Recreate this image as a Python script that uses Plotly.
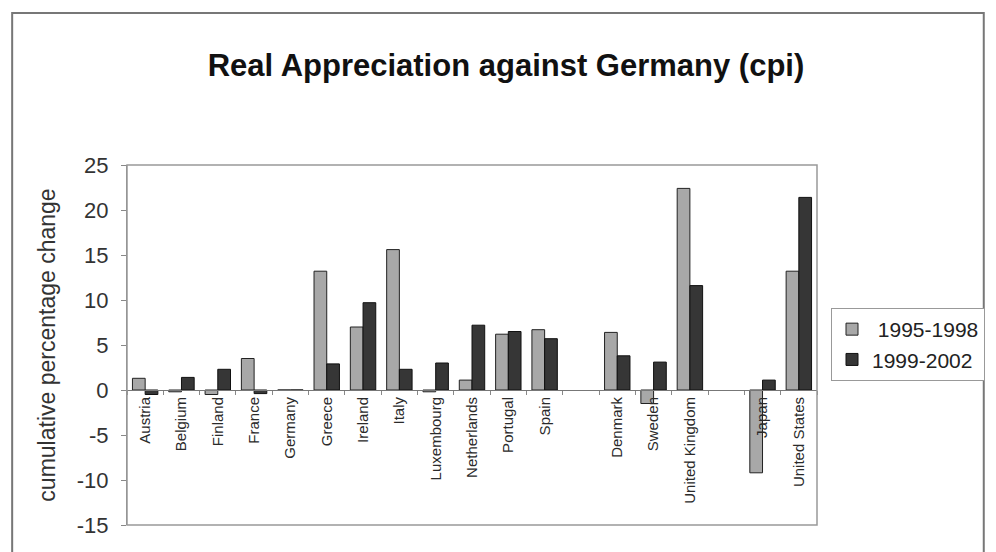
import plotly.graph_objects as go

categories = ["Austria", "Belgium", "Finland", "France", "Germany", "Greece", "Ireland",
              "Italy", "Luxembourg", "Netherlands", "Portugal", "Spain", " ",
              "Denmark", "Sweden", "United Kingdom", "  ", "Japan", "United States"]
p1995_1998 = [1.3, -0.2, -0.5, 3.5, 0.0, 13.2, 7.0, 15.6, -0.2, 1.1, 6.2, 6.7, None,
              6.4, -1.5, 22.4, None, -9.2, 13.2]
p1999_2002 = [-0.5, 1.4, 2.3, -0.4, 0.0, 2.9, 9.7, 2.3, 3.0, 7.2, 6.5, 5.7, None,
              3.8, 3.1, 11.6, None, 1.1, 21.4]
y_ticks = [-15, -10, -5, 0, 5, 10, 15, 20, 25]
y_ticktext = [str(v) for v in y_ticks]

W, H = 996, 552
L, R, T, B = 127, 818, 165, 525

fig = go.Figure()
fig.add_trace(go.Bar(x=categories, y=p1995_1998, name=" 1995-1998",
                     marker=dict(color="#a8a8a8", line=dict(color="#222", width=1))))
fig.add_trace(go.Bar(x=categories, y=p1999_2002, name="1999-2002",
                     marker=dict(color="#363636", line=dict(color="#111", width=1))))

def px_x(v):
    return (v - L) / (R - L)

def px_y(v):
    return (B - v) / (B - T)

fig.update_layout(
    width=W, height=H,
    margin=dict(l=L, r=W - R, t=T, b=H - B),
    paper_bgcolor="white", plot_bgcolor="white",
    barmode="group", bargap=0.3, bargroupgap=0,
    font=dict(family="Liberation Sans, Arial, sans-serif", color="#2a2a2a"),
    title=dict(text="<b>Real Appreciation against Germany (cpi)</b>",
               x=(506 - 0) / W, xanchor="center", y=1 - 65 / H, yanchor="middle",
               xref="paper" if False else "container", yref="container",
               font=dict(size=31, color="#111")),
    xaxis=dict(type="category", categoryorder="array", categoryarray=categories,
               anchor="free", position=15 / 40, showline=True, linecolor="#777",
               linewidth=1, ticks="outside", tickson="boundaries", ticklen=4,
               tickcolor="#888", tickangle=-90, tickfont=dict(size=15, color="#2a2a2a"),
               showgrid=False, zeroline=False),
    yaxis=dict(range=[-15, 25], tickvals=y_ticks, ticktext=y_ticktext, showline=True,
               linecolor="#888", linewidth=1, ticks="outside", ticklen=5, tickcolor="#888",
               ticklabelstandoff=8,
               tickfont=dict(size=22, color="#333"), showgrid=False, zeroline=False,
               title=dict(text="cumulative percentage change", font=dict(size=23, color="#333"),
                          standoff=14)),
    legend=dict(x=px_x(831), y=px_y(308), xanchor="left", yanchor="top",
                bordercolor="#999", borderwidth=1, bgcolor="white",
                font=dict(size=21, color="#222"), itemwidth=30, tracegroupgap=0),
    showlegend=True,
    shapes=[
        dict(type="rect", xref="paper", yref="paper", x0=0, x1=1, y0=0, y1=1,
             line=dict(color="#999", width=1.5)),
        dict(type="rect", xref="paper", yref="paper", x0=px_x(12), x1=px_x(985),
             y0=px_y(600), y1=px_y(13), line=dict(color="#777", width=2), layer="below"),
    ],
)

fig.write_html("out.html")
